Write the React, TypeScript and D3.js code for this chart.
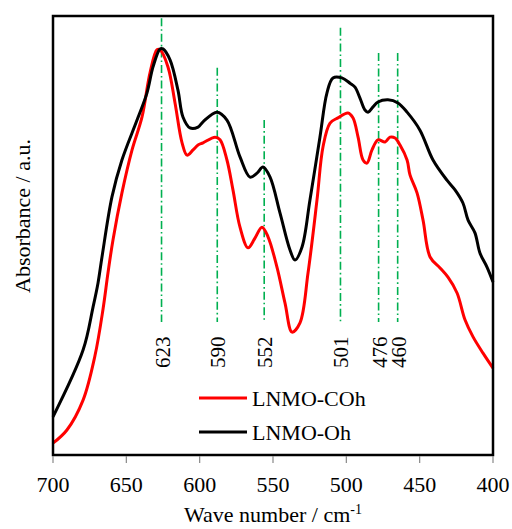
import React from "react";
import * as d3 from "d3";

// LNMO-COh (red)
const cohWave = [700, 690.5, 679.5, 671.4, 665.9, 662.5, 659.1, 653, 646.1, 639.3, 633.9, 629.1, 627, 621.6, 616.8, 612, 608.6, 604.5, 601.1, 597.7, 589.5, 586.1, 581.4, 577.3, 572.5, 567, 562.3, 557.5, 553.4, 547.3, 541.8, 537, 531.6, 526.1, 520, 515.9, 511.1, 505.7, 498.9, 495.5, 492, 488.6, 485.9, 482.5, 478.4, 473.6, 470.2, 466.8, 463.4, 458.6, 456.6, 451.8, 447.7, 442.9, 436.1, 430.7, 424.5, 419.1, 413.6, 406.8, 400];
const cohAbs = [2.7, 5.7, 12.5, 22.6, 33.2, 41.5, 49, 59.7, 69.5, 77, 87, 92.3, 92.3, 88.4, 80.2, 71.1, 68.3, 69.5, 70.6, 71.1, 72.4, 71.8, 67.2, 60.4, 51.9, 47.2, 49.4, 51.9, 49.7, 42.8, 34.6, 28, 30.1, 41.5, 58.1, 70.2, 75.6, 76.8, 77.9, 76.8, 72.4, 67.2, 66.5, 69.5, 71.8, 71.3, 72.4, 72.2, 70.6, 67.2, 63.8, 59.7, 53.5, 45.1, 42.6, 40.5, 36.9, 30.8, 26.9, 23.2, 19.8];

// LNMO-Oh (black)
const ohWave = [700, 679.5, 672.7, 669.3, 666.6, 659.8, 653, 642.7, 635.9, 631.8, 627, 625, 620.2, 614.8, 611.4, 606.6, 601.1, 597.7, 588.2, 581.4, 572.5, 565.7, 560.9, 556.8, 552, 545.2, 538.4, 535, 530.2, 524.8, 518, 513.2, 509.1, 503, 497.5, 494.1, 490.7, 487.3, 485.2, 481.8, 478.4, 471.6, 464.8, 458.6, 449.8, 440.9, 431.4, 425.9, 420.5, 417, 412.3, 408.9, 404.1, 400];
const ohAbs = [8.7, 23.9, 33.7, 39.2, 45.1, 58.8, 67.2, 76.3, 82.5, 88.4, 92.5, 92.5, 90, 83.1, 77, 74.5, 74.7, 75.9, 78.1, 76.3, 67.9, 63.3, 64.2, 65.6, 63.3, 55.1, 46.7, 44.4, 47.4, 58.1, 72.4, 82.5, 85.9, 85.9, 84.7, 83.8, 81.3, 78.6, 78.1, 79.3, 80.4, 80.9, 80.2, 78.1, 74, 67.2, 62.6, 60.4, 57.4, 53.5, 50.6, 46, 42.8, 39.4];

// peak guide lines
const peakPos = [626, 588, 556, 504, 478, 465];
const peakLabels = ["623", "590", "552", "501", "476", "460"];
const peakTop = [99.5, 88.2, 76.3, 97.3, 91.6, 91.6];
const peakBottom = 30.3;

const xTicks = [700, 650, 600, 550, 500, 450, 400];

const seriesNames = ["LNMO-COh", "LNMO-Oh"];
const seriesColors = ["#ff0000", "#000000"];

const W = 512;
const H = 529;
const m = { left: 53, right: 19, top: 16, bottom: 74 };
const font = "'Liberation Serif', 'Times New Roman', serif";

export default function App() {
  const x = d3.scaleLinear().domain([700, 400]).range([m.left, W - m.right]);
  const y = d3.scaleLinear().domain([0, 100]).range([H - m.bottom, m.top]);

  const mk = (ws: number[], vs: number[]) =>
    d3
      .line<number>()
      .x((_, i) => x(ws[i]))
      .y((v) => y(v))
      .curve(d3.curveCatmullRom.alpha(0.5))(vs) || "";

  const paths = [mk(cohWave, cohAbs), mk(ohWave, ohAbs)];
  const y0 = H - m.bottom;

  return (
    <svg
      width={W}
      height={H}
      style={{ position: "absolute", left: 0, top: 0, background: "#fff" }}
      fontFamily={font}
    >
      {peakPos.map((p, i) => (
        <g key={p}>
          <line
            x1={x(p)}
            x2={x(p)}
            y1={y(peakTop[i])}
            y2={y(peakBottom)}
            stroke="#00b050"
            strokeWidth={1.6}
            strokeDasharray="8,3,1.6,3"
          />
          <text
            transform={`translate(${x(p) + 8},${y(peakBottom) + 46}) rotate(-90)`}
            fontSize={21}
            fill="#000"
          >
            {peakLabels[i]}
          </text>
        </g>
      ))}

      {paths.map((d, i) => (
        <path
          key={i}
          d={d}
          fill="none"
          stroke={seriesColors[i]}
          strokeWidth={3}
          strokeLinejoin="round"
        />
      ))}

      <rect
        x={m.left}
        y={m.top}
        width={W - m.left - m.right}
        height={H - m.top - m.bottom}
        fill="none"
        stroke="#000"
        strokeWidth={2.5}
      />

      {xTicks.map((t) => (
        <g key={t}>
          <line x1={x(t)} x2={x(t)} y1={y0 + 1} y2={y0 + 8} stroke="#888" strokeWidth={1.2} />
          <text x={x(t)} y={y0 + 37} textAnchor="middle" fontSize={22}>
            {t}
          </text>
        </g>
      ))}

      <text x={(m.left + W - m.right) / 2} y={522} textAnchor="middle" fontSize={22}>
        Wave number / cm<tspan dy={-8} fontSize={14}>-1</tspan>
      </text>

      <text transform={`translate(30,216) rotate(-90)`} textAnchor="middle" fontSize={22}>
        Absorbance / a.u.
      </text>

      {seriesNames.map((n, i) => (
        <g key={n} transform={`translate(199,${398 + i * 34})`}>
          <line x1={0} x2={48} y1={0} y2={0} stroke={seriesColors[i]} strokeWidth={3} />
          <text x={53} y={8} fontSize={22}>
            {n}
          </text>
        </g>
      ))}
    </svg>
  );
}
